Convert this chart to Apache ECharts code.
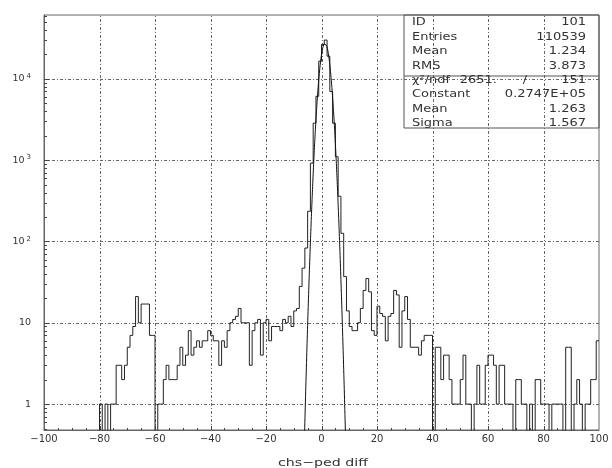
<!DOCTYPE html>
<html><head><meta charset="utf-8">
<script src="https://cdn.jsdelivr.net/npm/echarts@6/dist/echarts.min.js"></script>
<style>html,body{margin:0;padding:0;background:#fff}#c{width:612px;height:468px}</style>
</head><body><div id="c"></div>
<script>
// ---- data ----
const binStart = -100, binWidth = 1;
const countsM100toM81 = [0,0,0,0,0,0,0,0,0,0,0,0,0,0,0,0,0,0,0,0];
const countsM80toM61  = [1,0,1,0,1,1,3,3,2,3,5,7,9,21,10,17,17,17,7,7];
const countsM60toM41  = [0,1,1,2,3,2,2,2,3,5,3,4,8,4,5,6,5,6,6,8];
const countsM40toM21  = [7,6,6,3,6,5,8,10,11,12,15,10,10,10,3,8,10,11,4,10];
const countsM20toM1   = [11,6,9,9,9,8,11,10,12,9,14,15,28,47,83,235,920,2850,6100,16500];
const counts0to19     = [26500,30000,19000,7000,2850,1100,360,126,37,14,9,8,8,10,15,25,35,24,8,7];
const counts20to39    = [16,13,12,6,12,13,25,22,5,14,21,11,5,5,5,4,6,7,7,7];
const counts40to59    = [0,5,5,2,4,4,2,1,1,1,2,4,1,1,0,1,3,1,1,3];
const counts60to79    = [4,4,3,1,3,3,1,1,1,0,2,2,1,1,0,1,0,2,2,1];
const counts80to99    = [1,1,0,1,1,1,1,0,5,5,0,1,2,1,0,1,1,2,2,6];
const counts = [].concat(countsM100toM81, countsM80toM61, countsM60toM41, countsM40toM21,
  countsM20toM1, counts0to19, counts20to39, counts40to59, counts60to79, counts80to99);

// Gaussian fit parameters (as printed in the stats box)
const fitConstant = 27470, fitMean = 1.263, fitSigma = 1.567;
const fitRange = [-7, 9.6];

const statsNames  = ['ID', 'Entries', 'Mean', 'RMS'];
const statsValues = ['101', '110539', '1.234', '3.873'];
const chi2Label = '\u03c7\u00b2/ndf', chi2Value = '2651.', ndfValue = '151';
const fitNames  = ['Constant', 'Mean', 'Sigma'];
const fitValues = ['0.2747E+05', '1.263', '1.567'];

const xMin = -100, xMax = 100, xStep = 20, xMinorStep = 5;
const yMin = 0.48, yMax = 61000;
const yLabelValues = [1, 10, 100, 1000, 10000];
const yLabelTexts  = ['1', '10', '10{s|2}', '10{s|3}', '10{s|4}'];
const xTitle = 'chs\u2212ped diff';

// ---- build ----
const gridL = 44, gridT = 15, gridR = 13, gridB = 38;
const zeroFloor = 0.05;
const histPts = counts.map((v, i) => [binStart + i * binWidth, v > 0 ? v : zeroFloor]);
histPts.push([binStart + counts.length * binWidth, counts[counts.length - 1] > 0 ? counts[counts.length - 1] : zeroFloor]);

const fitPts = [];
for (let x = fitRange[0]; x <= fitRange[1] + 1e-9; x += 0.05) {
  const z = (x - fitMean) / fitSigma;
  fitPts.push([x, fitConstant * Math.exp(-0.5 * z * z)]);
}

const font = "'DejaVu Sans', 'Liberation Sans', sans-serif";
const txtColor = '#333';
const gridDash = [3, 2, 1, 2];

const graphicEls = [];
const boxL = 404, boxR = 599, boxT = 15, boxB = 128, sepY = 76;
graphicEls.push({type: 'rect', shape: {x: boxL, y: boxT, width: boxR - boxL, height: boxB - boxT},
  style: {fill: 'none', stroke: '#555', lineWidth: 1}, z: 10});
graphicEls.push({type: 'line', shape: {x1: boxL, y1: sepY, x2: boxR, y2: sepY},
  style: {stroke: '#555', lineWidth: 1}, z: 10});
const tfont = '10px ' + font;
const sx = 1.3;
function txt(t, x, y, align) {
  graphicEls.push({type: 'text', x: x, y: y, scaleX: sx, z: 11, silent: true,
    style: {text: t, font: tfont, fill: txtColor, textAlign: align, textVerticalAlign: 'middle'}});
}
const rowY1 = [22.5, 37, 51.5, 66];
statsNames.forEach((n, i) => { txt(n, 412, rowY1[i], 'left'); txt(statsValues[i], 586, rowY1[i], 'right'); });
txt(chi2Label, 412, 80.5, 'left');
txt(chi2Value, 497, 80.5, 'right');
txt('/', 525, 80.5, 'center');
txt(ndfValue, 586, 80.5, 'right');
const rowY2 = [94.5, 109, 123.5];
fitNames.forEach((n, i) => { txt(n, 412, rowY2[i], 'left'); txt(fitValues[i], 586, rowY2[i], 'right'); });
graphicEls.push({type: 'text', x: 323, y: 463, scaleX: 1.35, z: 11, silent: true,
  style: {text: xTitle, font: '10.5px ' + font, fill: txtColor, textAlign: 'center', textVerticalAlign: 'middle'}});

const chart = echarts.init(document.getElementById('c'), null, {renderer: 'canvas'});
chart.setOption({
  animation: false,
  backgroundColor: '#fff',
  grid: {left: gridL, right: gridR, top: gridT, bottom: gridB, show: true, borderColor: '#666', borderWidth: 1},
  xAxis: {
    type: 'value', min: xMin, max: xMax, interval: xStep,
    axisLine: {show: true, onZero: false, lineStyle: {color: '#666', width: 1}},
    axisTick: {show: false},
    axisLabel: {fontFamily: font, fontSize: 10, color: txtColor, margin: 4,
      formatter: v => String(v).replace('-', '\u2212')},
    splitLine: {show: false}
  },
  yAxis: {
    type: 'log', logBase: 10, min: yMin, max: yMax,
    axisLine: {show: true, onZero: false, lineStyle: {color: '#666', width: 1}},
    axisTick: {show: false},
    axisLabel: {fontFamily: font, fontSize: 9.5, color: txtColor, margin: 13,
      showMinLabel: false, showMaxLabel: false,
      formatter: v => {
        for (let i = 0; i < yLabelValues.length; i++) if (Math.abs(v - yLabelValues[i]) / yLabelValues[i] < 1e-6) return yLabelTexts[i];
        return '';
      },
      rich: {s: {fontSize: 7, fontFamily: font, color: txtColor, verticalAlign: 'top', padding: [0, 0, 5, 2]}}
    },
    splitLine: {show: false}
  },
  graphic: graphicEls,
  series: [
    {type: 'line', data: histPts, step: 'end', showSymbol: false, clip: true,
      lineStyle: {color: '#222', width: 1}, z: 3},
    {type: 'line', data: fitPts, showSymbol: false, clip: true,
      lineStyle: {color: '#111', width: 1}, z: 4}
  ]
});

// grid lines and inside ticks, placed through the axes' own scales
(function () {
  const zr = chart.getZr();
  function seg(x1, y1, x2, y2, dashed) {
    if (![x1, y1, x2, y2].every(isFinite)) return;
    zr.add(new echarts.graphic.Line({shape: {x1: x1, y1: y1, x2: x2, y2: y2},
      style: {stroke: dashed ? '#666' : '#444', lineWidth: 1, lineDash: dashed ? gridDash : null},
      z: dashed ? 2 : 100, silent: true}));
  }
  const px = (x, y) => chart.convertToPixel({xAxisIndex: 0, yAxisIndex: 0}, [x, y]);
  const plotLeft = gridL, plotTop = gridT;
  const plotRight = chart.getWidth() - gridR, plotBottom = chart.getHeight() - gridB;
  try {
    for (let e = -1; e <= 4; e++) for (let m = 1; m <= 9; m++) {
      const v = m * Math.pow(10, e);
      if (v <= yMin || v >= yMax) continue;
      const yy = Math.round(px(xMin, v)[1]) + 0.5;
      if (m === 1) seg(plotLeft, yy, plotRight, yy, true);
      seg(plotLeft, yy, plotLeft + (m === 1 ? 5 : 3), yy, false);
    }
  } catch (err) {}
  try {
    for (let x = xMin + xMinorStep; x < xMax; x += xMinorStep) {
      const xx = Math.round(px(x, 1)[0]) + 0.5;
      const major = Math.abs(x % xStep) < 1e-9;
      if (major) seg(xx, plotBottom, xx, plotTop, true);
      seg(xx, plotBottom, xx, plotBottom - (major ? 4 : 2), false);
    }
  } catch (err) {}
})();
</script></body></html>
